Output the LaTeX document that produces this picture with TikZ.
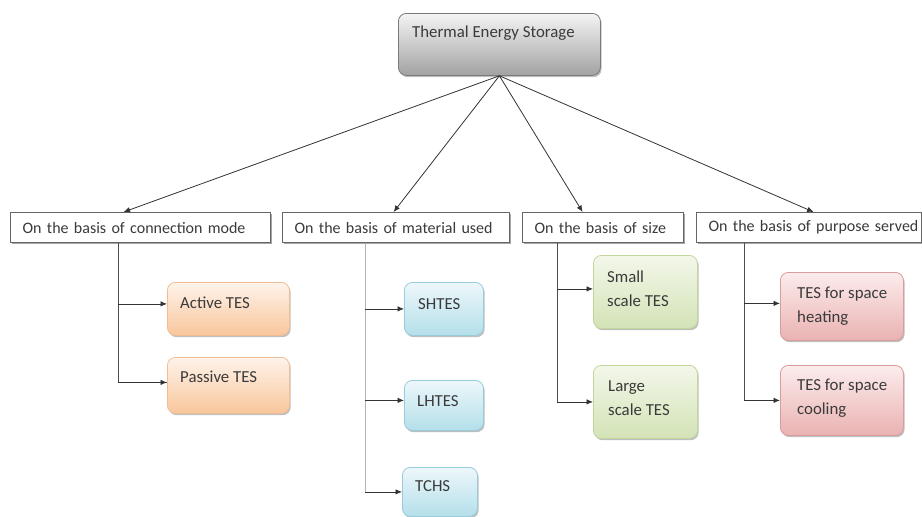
\documentclass[tikz,border=0pt]{standalone}
\usepackage{fontspec}
\setmainfont{Carlito}
\usetikzlibrary{arrows.meta,shadows}
\definecolor{txtc}{HTML}{3A3A3A}
\definecolor{grayT}{HTML}{F4F4F4}\definecolor{grayB}{HTML}{A2A2A2}\definecolor{grayD}{HTML}{7A7A7A}
\definecolor{orT}{HTML}{FEF3EA}\definecolor{orB}{HTML}{F9C69C}\definecolor{orD}{HTML}{F0BE96}
\definecolor{blT}{HTML}{EDF7FA}\definecolor{blB}{HTML}{B4DFEA}\definecolor{blD}{HTML}{98CCDA}
\definecolor{grT}{HTML}{F3F7EA}\definecolor{grB}{HTML}{D3E3B6}\definecolor{grD}{HTML}{C2D69C}
\definecolor{rdT}{HTML}{FCECEC}\definecolor{rdB}{HTML}{EAB2B2}\definecolor{rdD}{HTML}{DA9C9C}
\tikzset{
  basefont/.style={font=\fontsize{16.8}{23.5}\selectfont, text=txtc},
  shad/.style={drop shadow={shadow xshift=1.2pt, shadow yshift=-1.8pt, opacity=0.25, fill=black}},
  rbox/.style={rounded corners=8pt, line width=0.8pt, anchor=north west, inner sep=0pt, shad},
  topbox/.style={rbox, draw=grayD, top color=grayT, bottom color=grayB},
  orbox/.style={rbox, draw=orD, top color=orT, bottom color=orB},
  blbox/.style={rbox, draw=blD, top color=blT, bottom color=blB},
  grbox/.style={rbox, draw=grD, top color=grT, bottom color=grB},
  rdbox/.style={rbox, draw=rdD, top color=rdT, bottom color=rdB},
  catbox/.style={font=\fontsize{16}{19}\selectfont, text=txtc, draw=black!60, line width=1.2pt, fill=white, anchor=north west,
    minimum height=30pt, inner xsep=12pt, inner ysep=0pt, align=left,
    drop shadow={shadow xshift=1.2pt, shadow yshift=-1.2pt, opacity=0.35, fill=black}},
  txt/.style={basefont, anchor=north west, inner sep=0pt, align=left},
  conn/.style={draw=black!80, line width=0.8pt, -{Latex[length=6.5pt,width=5.5pt]}},
  trunk/.style={draw=black!70, line width=0.9pt},
  ltrunk/.style={draw=black!30, line width=0.8pt},
}
\begin{document}
\begin{tikzpicture}[x=1pt,y=-1pt]
\useasboundingbox (0,0) rectangle (922,517);
% top
\node[topbox, minimum width=202pt, minimum height=62pt] (top) at (398,13) {};
\node[txt] (topT) at ([shift={(14,13)}]top.north west) {Thermal Energy Storage};
% categories
\node[catbox, text width=236pt] (c1) at (10,212) {\mbox{On the basis of connection mode}};
\node[catbox, text width=203pt] (c2) at (282,212) {\mbox{On the basis of material used}};
\node[catbox, text width=137pt] (c3) at (522,212) {\mbox{On the basis of size}};
\node[catbox, text width=201pt] (c4) at (696,212) {\mbox{On the basis of purpose served}};
% children
\node[orbox, minimum width=122pt, minimum height=53pt] (act) at (167,282) {};
\node[txt] (actT) at ([shift={(13,15)}]act.north west) {Active TES};
\node[orbox, minimum width=122pt, minimum height=56pt] (pas) at (167,357) {};
\node[txt] (pasT) at ([shift={(13,14)}]pas.north west) {Passive TES};
\node[blbox, minimum width=79pt, minimum height=53pt] (sh) at (404,282) {};
\node[txt] (shT) at ([shift={(14,16)}]sh.north west) {SHTES};
\node[blbox, minimum width=79pt, minimum height=50pt] (lh) at (404,380) {};
\node[txt] (lhT) at ([shift={(13,15)}]lh.north west) {LHTES};
\node[blbox, minimum width=75pt, minimum height=49pt] (tc) at (402,467) {};
\node[txt] (tcT) at ([shift={(13,13)}]tc.north west) {TCHS};
\node[grbox, minimum width=104pt, minimum height=73pt] (sm) at (593,255) {};
\node[txt] (smT) at ([shift={(14,16)}]sm.north west) {Small\\scale TES};
\node[grbox, minimum width=104pt, minimum height=73pt] (lg) at (593,365) {};
\node[txt] (lgT) at ([shift={(15,16)}]lg.north west) {Large\\scale TES};
\node[rdbox, minimum width=123pt, minimum height=68pt] (ht) at (780,272) {};
\node[txt] (htT) at ([shift={(17,15)}]ht.north west) {TES for space\\heating};
\node[rdbox, minimum width=123pt, minimum height=70pt] (cl) at (780,365) {};
\node[txt] (clT) at ([shift={(17,14)}]cl.north west) {TES for space\\cooling};
% trunk x positions
\coordinate (t1) at (118,0);
\coordinate (t2) at (365,0);
\coordinate (t3) at (557,0);
\coordinate (t4) at (744,0);
% top arrows
\draw[conn] (top.south) -- ([xshift=-17pt]c1.north);
\draw[conn] (top.south) -- ([xshift=-2.5pt]c2.north);
\draw[conn] (top.south) -- ([xshift=-20.5pt]c3.north);
\draw[conn] (top.south) -- ([xshift=4.5pt]c4.north);
% trunks
\draw[trunk] (c1.south -| t1) |- ([yshift=3pt]pas.west);
\draw[conn] (t1 |- act.west) ++(0,-5) -- ([yshift=5pt]act.west);
\draw[conn] (t1 |- pas.west) ++(0,-3) -- ([yshift=3pt]pas.west);
\draw[ltrunk] (c2.south -| t2) -- (t2 |- tc.west);
\draw[conn] (t2 |- sh.west) -- (sh.west);
\draw[conn] (t2 |- lh.west) ++(0,-5) -- ([yshift=5pt]lh.west);
\draw[conn] (t2 |- tc.west) -- (tc.west);
\draw[trunk] (c3.south -| t3) -- (t3 |- lg.west);
\draw[conn] (t3 |- sm.west) ++(0,-3) -- ([yshift=3pt]sm.west);
\draw[conn] (t3 |- lg.west) -- (lg.west);
\draw[trunk] (c4.south -| t4) -- (t4 |- cl.west);
\draw[conn] (t4 |- ht.west) ++(0,-3) -- ([yshift=3pt]ht.west);
\draw[conn] (t4 |- cl.west) -- (cl.west);
\end{tikzpicture}
\end{document}
